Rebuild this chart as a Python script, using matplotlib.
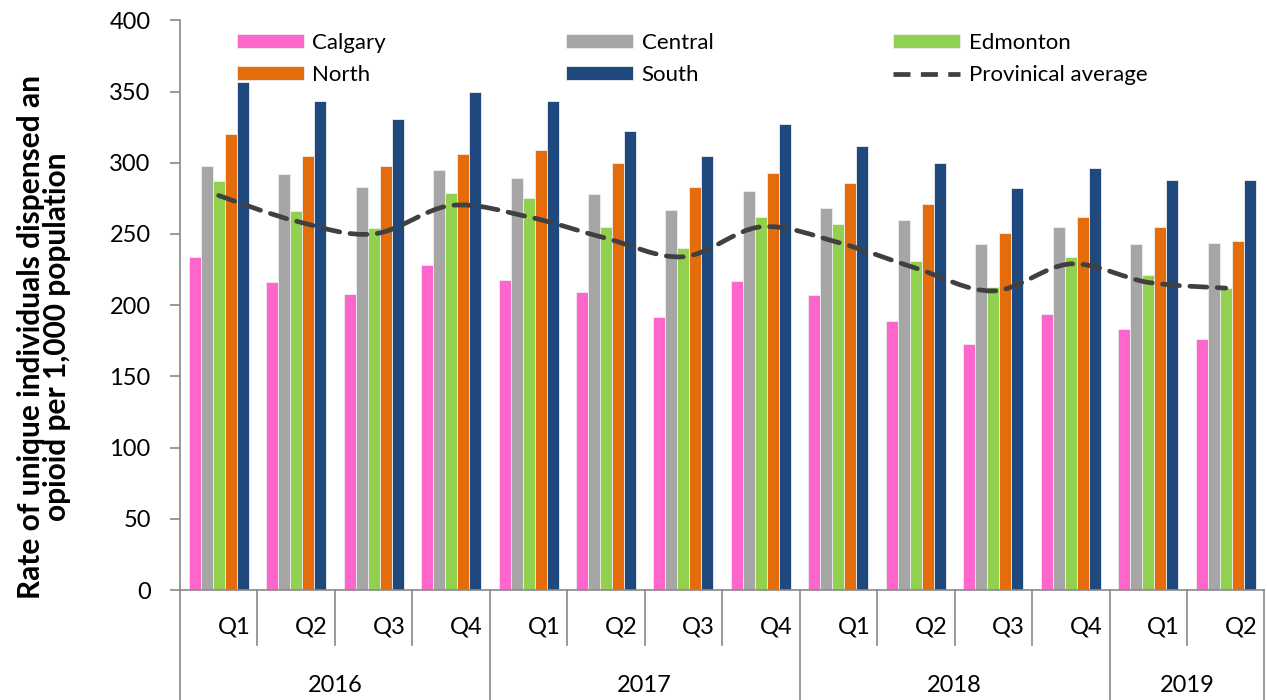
import numpy as np
import matplotlib.pyplot as plt
from matplotlib.path import Path
from matplotlib.patches import PathPatch
from matplotlib.lines import Line2D

plt.rcParams['font.family'] = ['Lato', 'DejaVu Sans']

years = ['2016', '2017', '2018', '2019']
quarters = ['Q1', 'Q2', 'Q3', 'Q4', 'Q1', 'Q2', 'Q3', 'Q4',
            'Q1', 'Q2', 'Q3', 'Q4', 'Q1', 'Q2']
quarters_per_year = [4, 4, 4, 2]

calgary = [234, 216, 208, 228, 218, 209, 192, 217, 207, 189, 173, 194, 183, 176]
central = [298, 292, 283, 295, 289, 278, 267, 280, 268, 260, 243, 255, 243, 244]
edmonton = [287, 266, 254, 279, 275, 255, 240, 262, 257, 231, 213, 234, 221, 212]
north = [320, 305, 298, 306, 309, 300, 283, 293, 286, 271, 251, 262, 255, 245]
south = [357, 343, 331, 350, 343, 322, 305, 327, 312, 300, 282, 296, 288, 288]
prov_avg = [277, 259, 250, 270, 262, 247, 234, 255, 244, 226, 210, 229, 216, 212]

regions = ['Calgary', 'Central', 'Edmonton', 'North', 'South']
series = [calgary, central, edmonton, north, south]
colors = ['#ff66cc', '#a6a6a6', '#92d050', '#e46c0a', '#1f497d']
axis_grey = '#898989'

fig = plt.figure(figsize=(12.67, 7), dpi=100)
ax = fig.add_axes([0.142, 0.157, 0.856, 0.814])

x = np.arange(len(quarters))
w = 0.155
for k, (vals, c, name) in enumerate(zip(series, colors, regions)):
    ax.bar(x + (k - 2) * w, vals, width=w, color=c, edgecolor='#eeeeee',
           linewidth=0.6, label=name, zorder=2)

# smoothed provincial average (cubic Bezier segments through each point)
pts = np.column_stack([x, prov_avg]).astype(float)
verts = [pts[0]]
codes = [Path.MOVETO]
for i in range(len(pts) - 1):
    p0 = pts[max(i - 1, 0)]
    p1 = pts[i]
    p2 = pts[i + 1]
    p3 = pts[min(i + 2, len(pts) - 1)]
    verts += [p1 + (p2 - p0) / 6, p2 - (p3 - p1) / 6, p2]
    codes += [Path.CURVE4] * 3
avg_style = dict(color='#404040', linewidth=3.4, linestyle=(0, (3.6, 2.2)))
ax.add_patch(PathPatch(Path(verts, codes), fill=False, capstyle='round',
                       zorder=3, **avg_style))

ax.set_xlim(-0.5, len(quarters) - 0.5)
ax.set_ylim(0, 400)
ax.set_yticks(range(0, 401, 50))
ax.tick_params(axis='y', labelsize=17, length=7, width=1.2, color=axis_grey, pad=14)
ax.set_xticks([])
for s in ['top', 'right']:
    ax.spines[s].set_visible(False)
for s in ['left', 'bottom']:
    ax.spines[s].set_color(axis_grey)
    ax.spines[s].set_linewidth(1.2)

ax.set_ylabel('Rate of unique individuals dispensed an\nopioid per 1,000 population',
              fontsize=21.5, fontweight='bold', linespacing=0.92)
ax.yaxis.set_label_coords(-0.1, 0.444)

# two-level category axis: quarters then years
bottom = -0.193
sep_low = -0.097
line_kw = dict(color=axis_grey, linewidth=1.2, clip_on=False,
               transform=ax.get_xaxis_transform())
ax.add_line(Line2D([-0.5, -0.5], [0, bottom], **line_kw))
start = 0
year_edges = []
for n in quarters_per_year:
    start += n
    year_edges.append(start - 0.5)
for i in range(len(quarters)):
    edge = i + 0.5
    low = bottom if edge in year_edges else sep_low
    ax.add_line(Line2D([edge, edge], [0, low], **line_kw))
    ax.text(i + 0.41, -0.065, quarters[i], ha='right', va='center', fontsize=17,
            transform=ax.get_xaxis_transform(), clip_on=False)
start = 0
for yr, n in zip(years, quarters_per_year):
    ax.text(start + (n - 1) / 2, -0.167, yr, ha='center', va='center', fontsize=17,
            transform=ax.get_xaxis_transform(), clip_on=False)
    start += n

handles, labels = ax.get_legend_handles_labels()
handles.append(Line2D([], [], **avg_style))
labels.append('Provinical average')
order = [0, 3, 1, 4, 2, 5]
ax.legend([handles[i] for i in order], [labels[i] for i in order], ncol=3,
          loc='upper left', bbox_to_anchor=(0.0525, 0.978), frameon=False,
          fontsize=16, handlelength=3.0, handleheight=0.62, handletextpad=0.4,
          columnspacing=8.1, labelspacing=0.55, borderpad=0, borderaxespad=0)

fig.savefig('out.png', dpi=100)
